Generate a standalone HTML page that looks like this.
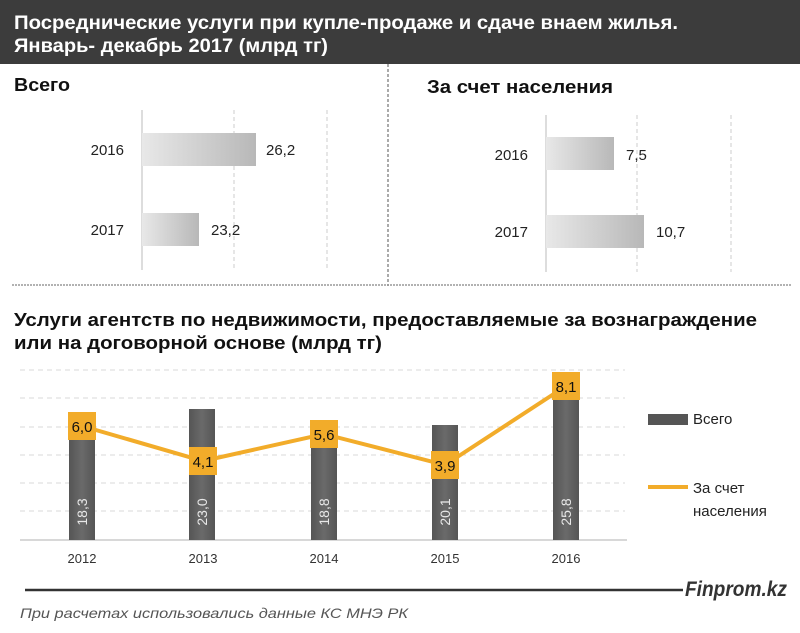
<!DOCTYPE html>
<html><head><meta charset="utf-8"><style>
body{margin:0;background:#fff}
svg{display:block}
text{font-family:"Liberation Sans Narrow","Liberation Sans",sans-serif}
</style></head><body>
<svg width="800" height="633" viewBox="0 0 800 633" xmlns="http://www.w3.org/2000/svg">
<defs>
<linearGradient id="hb" x1="0" x2="1" y1="0" y2="0"><stop offset="0" stop-color="#e8e8e8"/><stop offset="1" stop-color="#b8b8b8"/></linearGradient>
<linearGradient id="vb" x1="0" x2="1" y1="0" y2="0"><stop offset="0" stop-color="#555"/><stop offset="0.5" stop-color="#6a6a6a"/><stop offset="1" stop-color="#555"/></linearGradient>
</defs>
<rect x="0" y="0" width="800" height="64" fill="#3c3c3c"/>
<text x="14" y="29" fill="#fff" font-size="19" font-weight="bold" textLength="664" lengthAdjust="spacingAndGlyphs">Посреднические услуги  при купле-продаже и сдаче внаем жилья.</text>
<text x="14" y="52" fill="#fff" font-size="19" font-weight="bold" textLength="314" lengthAdjust="spacingAndGlyphs">Январь- декабрь 2017 (млрд  тг)</text>
<line x1="388" y1="64" x2="388" y2="286" stroke="#555" stroke-dasharray="3,2"/>
<line x1="12" y1="285" x2="792" y2="285" stroke="#999" stroke-width="1.5" stroke-dasharray="2,1"/>
<text x="14" y="91" font-size="18" font-weight="bold" fill="#111" textLength="56" lengthAdjust="spacingAndGlyphs">Всего</text>
<text x="427" y="93" font-size="18" font-weight="bold" fill="#111" textLength="186" lengthAdjust="spacingAndGlyphs">За счет населения</text>
<!-- left chart -->
<line x1="142" y1="110" x2="142" y2="270" stroke="#bbb"/>
<line x1="234" y1="110" x2="234" y2="270" stroke="#ccc" stroke-dasharray="4,3"/>
<line x1="327" y1="110" x2="327" y2="270" stroke="#ccc" stroke-dasharray="4,3"/>
<rect x="142" y="133" width="114" height="33" fill="url(#hb)"/>
<rect x="142" y="213" width="57" height="33" fill="url(#hb)"/>
<text x="124" y="155" font-size="15" text-anchor="end" fill="#222">2016</text>
<text x="124" y="235" font-size="15" text-anchor="end" fill="#222">2017</text>
<text x="266" y="155" font-size="15" fill="#222">26,2</text>
<text x="211" y="235" font-size="15" fill="#222">23,2</text>
<!-- right chart -->
<line x1="546" y1="115" x2="546" y2="272" stroke="#bbb"/>
<line x1="637" y1="115" x2="637" y2="272" stroke="#ccc" stroke-dasharray="4,3"/>
<line x1="731" y1="115" x2="731" y2="272" stroke="#ccc" stroke-dasharray="4,3"/>
<rect x="546" y="137" width="68" height="33" fill="url(#hb)"/>
<rect x="546" y="215" width="98" height="33" fill="url(#hb)"/>
<text x="528" y="160" font-size="15" text-anchor="end" fill="#222">2016</text>
<text x="528" y="237" font-size="15" text-anchor="end" fill="#222">2017</text>
<text x="626" y="160" font-size="15" fill="#222">7,5</text>
<text x="656" y="237" font-size="15" fill="#222">10,7</text>
<!-- bottom title -->
<text x="14" y="326" font-size="18" font-weight="bold" fill="#111" textLength="743" lengthAdjust="spacingAndGlyphs">Услуги агентств по недвижимости, предоставляемые за вознаграждение</text>
<text x="14" y="349" font-size="18" font-weight="bold" fill="#111" textLength="368" lengthAdjust="spacingAndGlyphs">или на договорной основе (млрд тг)</text>
<!-- grid -->
<g stroke="#d8d8d8" stroke-dasharray="5,4">
<line x1="20" y1="370" x2="625" y2="370"/><line x1="20" y1="398" x2="625" y2="398"/>
<line x1="20" y1="427" x2="625" y2="427"/><line x1="20" y1="455" x2="625" y2="455"/>
<line x1="20" y1="483" x2="625" y2="483"/><line x1="20" y1="511" x2="625" y2="511"/>
</g>
<line x1="20" y1="540" x2="627" y2="540" stroke="#ccc" stroke-width="1.5"/>
<rect x="69" y="440" width="26" height="100" fill="url(#vb)"/>
<rect x="189" y="409" width="26" height="131" fill="url(#vb)"/>
<rect x="311" y="447" width="26" height="93" fill="url(#vb)"/>
<rect x="432" y="425" width="26" height="115" fill="url(#vb)"/>
<rect x="553" y="393" width="26" height="147" fill="url(#vb)"/>
<g font-size="14" fill="#e8e8e8" text-anchor="middle">
<text transform="translate(87,512) rotate(-90)">18,3</text>
<text transform="translate(207,512) rotate(-90)">23,0</text>
<text transform="translate(329,512) rotate(-90)">18,8</text>
<text transform="translate(450,512) rotate(-90)">20,1</text>
<text transform="translate(571,512) rotate(-90)">25,8</text>
</g>
<polyline points="82,426 203,461 324,434 445,465 566,386" fill="none" stroke="#f2ac2a" stroke-width="4"/>
<g fill="#f2ac2a">
<rect x="68" y="412" width="28" height="28"/><rect x="189" y="447" width="28" height="28"/>
<rect x="310" y="420" width="28" height="28"/><rect x="431" y="451" width="28" height="28"/>
<rect x="552" y="372" width="28" height="28"/>
</g>
<g font-size="15" fill="#111" text-anchor="middle">
<text x="82" y="432">6,0</text><text x="203" y="467">4,1</text><text x="324" y="440">5,6</text>
<text x="445" y="471">3,9</text><text x="566" y="392">8,1</text>
</g>
<g font-size="13" fill="#333" text-anchor="middle">
<text x="82" y="563">2012</text><text x="203" y="563">2013</text><text x="324" y="563">2014</text>
<text x="445" y="563">2015</text><text x="566" y="563">2016</text>
</g>
<rect x="648" y="414" width="40" height="11" fill="#555"/>
<text x="693" y="424" font-size="15" fill="#222">Всего</text>
<line x1="648" y1="487" x2="688" y2="487" stroke="#f2ac2a" stroke-width="4"/>
<text x="693" y="493" font-size="15" fill="#222">За счет</text>
<text x="693" y="516" font-size="15" fill="#222">населения</text>
<line x1="25" y1="590" x2="683" y2="590" stroke="#333" stroke-width="2.5"/>
<text x="685" y="596" font-size="21" font-weight="bold" font-style="italic" fill="#333" textLength="102" lengthAdjust="spacingAndGlyphs">Finprom.kz</text>
<text x="20" y="618" font-size="14" font-style="italic" fill="#555" textLength="388" lengthAdjust="spacingAndGlyphs">При расчетах использовались данные КС МНЭ РК</text>
</svg>
</body></html>
